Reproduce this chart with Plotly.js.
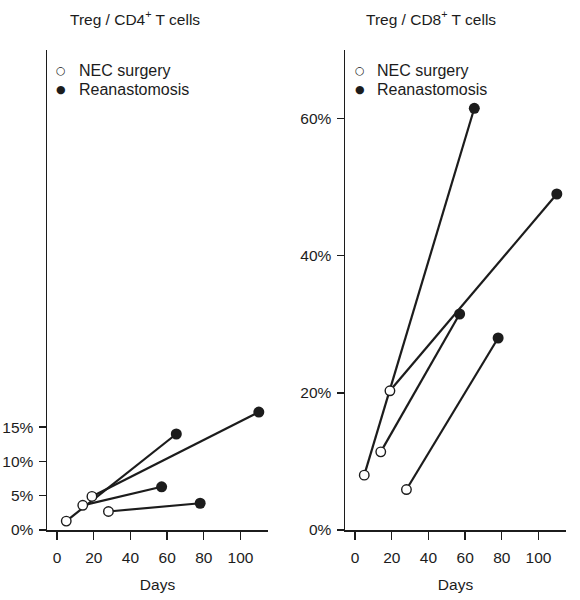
<!DOCTYPE html>
<html>
<head>
<meta charset="utf-8">
<script src="https://cdn.plot.ly/plotly-3.0.1.min.js"></script>
<style>html,body{margin:0;padding:0;background:#fff;} #chart{width:580px;height:600px;}</style>
</head>
<body>
<div id="chart"></div>
<script>
// Data: four patients, day of NEC surgery and day of reanastomosis
const daysSurgery = [5, 19, 14, 28];
const daysReanast = [65, 110, 57, 78];
// Treg / CD4+ T cells (%)
const cd4Surgery = [1.3, 4.9, 3.6, 2.7];
const cd4Reanast = [14.0, 17.2, 6.3, 3.9];
// Treg / CD8+ T cells (%)
const cd8Surgery = [8.0, 20.3, 11.4, 5.9];
const cd8Reanast = [61.5, 49.0, 31.5, 28.0];

const xTicks = [0, 20, 40, 60, 80, 100];
const cd4Ticks = [0, 5, 10, 15];
const cd8Ticks = [0, 20, 40, 60];
const panelTitles = ['Treg / CD4<sup>+</sup> T cells', 'Treg / CD8<sup>+</sup> T cells'];
const legendNames = ['NEC surgery', 'Reanastomosis'];
const legendGlyphs = ['\u25CB', '\u25CF'];

const ink = '#1c1c1c';
const fontFam = 'Arial, "Liberation Sans", Helvetica, sans-serif';

function panelTraces(s0, s1, xa, ya) {
  const t = [];
  for (let i = 0; i < daysSurgery.length; i++) {
    t.push({x: [daysSurgery[i], daysReanast[i]], y: [s0[i], s1[i]], xaxis: xa, yaxis: ya,
      mode: 'lines', line: {color: ink, width: 2.2}, showlegend: false, hoverinfo: 'skip'});
  }
  t.push({x: daysSurgery, y: s0, xaxis: xa, yaxis: ya, mode: 'markers', showlegend: false,
    name: legendNames[0],
    marker: {symbol: 'circle', size: 9.5, color: '#fff', line: {color: ink, width: 1.4}}});
  t.push({x: daysReanast, y: s1, xaxis: xa, yaxis: ya, mode: 'markers', showlegend: false,
    name: legendNames[1],
    marker: {symbol: 'circle', size: 11, color: ink, line: {color: ink, width: 0}}});
  return t;
}

const data = [].concat(
  panelTraces(cd4Surgery, cd4Reanast, 'x', 'y'),
  panelTraces(cd8Surgery, cd8Reanast, 'x2', 'y2')
);

const W = 580, H = 600;
const yDom = [1 - 530 / H, 1 - 50 / H];
const xAxisBase = {
  range: [-5.5, 115], tickvals: xTicks, ticks: 'outside', ticklen: 8, tickwidth: 1.3,
  tickcolor: ink, showline: true, linecolor: ink, linewidth: 1.5, showgrid: false, zeroline: false,
  ticklabelstandoff: 5,
  tickfont: {size: 15.5, color: ink, family: fontFam},
  title: {text: 'Days', font: {size: 15.5, color: ink, family: fontFam}, standoff: 14}
};
const yAxisBase = {
  range: [0, 70], ticks: 'outside', ticklen: 7, tickwidth: 1.3, tickcolor: ink,
  showline: true, linecolor: ink, linewidth: 1.5, showgrid: false, zeroline: false,
  ticklabelstandoff: 2,
  tickfont: {size: 15.5, color: ink, family: fontFam}
};

function legendAnns(markerX, textX) {
  const rows = [71, 89.5];
  const out = [];
  rows.forEach((yy, i) => {
    out.push({text: legendGlyphs[i], x: markerX / W, y: 1 - yy / H, xref: 'paper', yref: 'paper',
      xanchor: 'center', yanchor: 'middle', showarrow: false,
      font: {size: 11, color: ink, family: '"DejaVu Sans", sans-serif'}});
    out.push({text: legendNames[i], x: textX / W, y: 1 - yy / H, xref: 'paper', yref: 'paper',
      xanchor: 'left', yanchor: 'middle', showarrow: false,
      font: {size: 16, color: ink, family: fontFam}});
  });
  return out;
}

const layout = {
  width: W, height: H,
  margin: {l: 0, r: 0, t: 0, b: 0},
  paper_bgcolor: '#fff', plot_bgcolor: '#fff',
  font: {family: fontFam, color: ink},
  showlegend: false,
  xaxis: Object.assign({}, xAxisBase, {domain: [47 / W, 268 / W], anchor: 'y'}),
  yaxis: Object.assign({}, yAxisBase, {domain: yDom, anchor: 'x', tickvals: cd4Ticks,
    ticktext: cd4Ticks.map(v => v + '%')}),
  xaxis2: Object.assign({}, xAxisBase, {domain: [345 / W, 566 / W], anchor: 'y2'}),
  yaxis2: Object.assign({}, yAxisBase, {domain: yDom, anchor: 'x2', tickvals: cd8Ticks,
    ticktext: cd8Ticks.map(v => v + '%')}),
  annotations: [
    {text: panelTitles[0], x: 134.5 / W, y: 1 - 18 / H, xref: 'paper', yref: 'paper',
      xanchor: 'center', yanchor: 'middle', showarrow: false, font: {size: 15.5, color: ink, family: fontFam}},
    {text: panelTitles[1], x: 431 / W, y: 1 - 18 / H, xref: 'paper', yref: 'paper',
      xanchor: 'center', yanchor: 'middle', showarrow: false, font: {size: 15.5, color: ink, family: fontFam}}
  ].concat(legendAnns(60.7, 76.5), legendAnns(360, 374.5))
};

Plotly.newPlot('chart', data, layout, {displayModeBar: false, staticPlot: true});
</script>
</body>
</html>
